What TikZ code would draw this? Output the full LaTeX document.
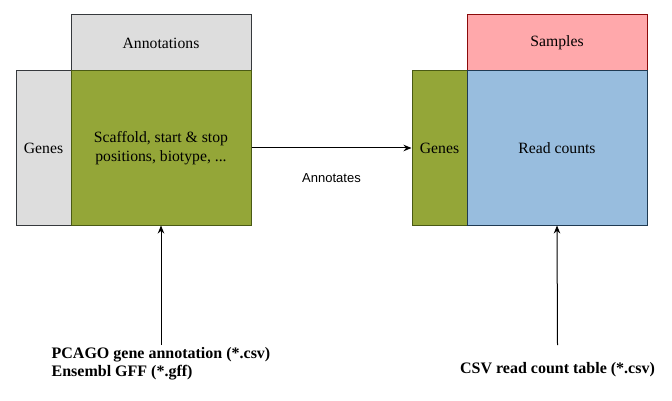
\documentclass[tikz,border=0pt]{standalone}
\usepackage{fontspec}
\setmainfont{Liberation Serif}
\newfontfamily\labelsans{Liberation Sans}
\usetikzlibrary{arrows.meta}
\definecolor{grayfill}{HTML}{DDDDDD}
\definecolor{grayline}{HTML}{36393D}
\definecolor{greenfill}{HTML}{94A638}
\definecolor{greenline}{HTML}{4A5A14}
\definecolor{pinkfill}{HTML}{FFA8AB}
\definecolor{pinkline}{HTML}{8B0A0A}
\definecolor{bluefill}{HTML}{98BDDE}
\definecolor{blueline}{HTML}{1F3A52}
\tikzset{
  boxbase/.style={rectangle, line width=1pt, inner sep=0pt, align=center,
    font=\fontsize{15.7}{19}\selectfont},
  graybox/.style={boxbase, fill=grayfill, draw=grayline},
  greenbox/.style={boxbase, fill=greenfill, draw=greenline},
  pinkbox/.style={boxbase, fill=pinkfill, draw=pinkline},
  bluebox/.style={boxbase, fill=bluefill, draw=blueline},
  srclabel/.style={font=\bfseries\fontsize{16}{18}\selectfont, align=left, inner sep=2.5pt},
  arr/.style={line width=1pt, -{Stealth[length=8pt,width=6.5pt]}}
}
\begin{document}
\begin{tikzpicture}[x=1pt,y=-1pt]
\useasboundingbox (0,0) rectangle (672,401);
% left table
\node[graybox, minimum width=180pt, minimum height=56pt] (ann) at (161,43) {Annotations};
\node[graybox, minimum width=55pt, minimum height=154pt] (genesL) at (43.5,148) {Genes};
\node[greenbox, minimum width=180pt, minimum height=154pt] (scaf) at (161,148) {Scaffold, start \& stop\\positions, biotype, ...};
% right table
\node[pinkbox, minimum width=180pt, minimum height=56pt] (samples) at (557,43) {Samples};
\node[greenbox, minimum width=55pt, minimum height=154pt] (genesR) at (439.5,148) {Genes};
\node[bluebox, minimum width=180pt, minimum height=154pt] (reads) at (557,148) {Read counts};
% connector between tables
\draw[arr] (scaf.east) -- (genesR.west);
\node[font=\labelsans\fontsize{13}{15}\selectfont] (annlab) at (331.5,178) {Annotates};
% sources
\node[srclabel, anchor=north] (srcA) at (161,345) {PCAGO gene annotation (*.csv)\\Ensembl GFF (*.gff)};
\node[srclabel] (srcB) at (557.5,370) {CSV read count table (*.csv)};
\coordinate (srcBtop) at (srcB.north |- srcA.north);
\draw[arr] (srcA.north) -- (scaf.south);
\draw[arr] (srcBtop) -- (reads.south);
\end{tikzpicture}
\end{document}
